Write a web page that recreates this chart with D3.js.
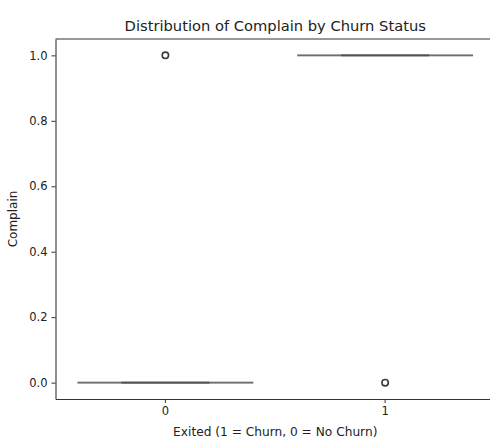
<!DOCTYPE html>
<html>
<head>
<meta charset="utf-8">
<script src="https://cdn.jsdelivr.net/npm/d3@7"></script>
<style>
  body { margin: 0; background: #fff; }
  text { font-family: "DejaVu Sans", sans-serif; fill: #222; }
</style>
</head>
<body>
<div id="chart"></div>
<script>
// box summaries per churn group (Complain is 0/1 so the boxes collapse)
const groups = ["0", "1"];
const q1 = [0, 1];
const median = [0, 1];
const q3 = [0, 1];
const whiskerLow = [0, 1];
const whiskerHigh = [0, 1];
const outliers = [[1], [0]];
const yTicks = [0, 0.2, 0.4, 0.6, 0.8, 1.0];

const W = 490, H = 439;
const margin = { top: 39, right: -5, bottom: 40, left: 55.5 };
const width = W - margin.left - margin.right,
      height = H - margin.top - margin.bottom;

const svg = d3.select("#chart").append("svg")
    .attr("width", W)
    .attr("height", H);

const g = svg.append("g")
    .attr("transform", `translate(${margin.left},${margin.top})`);

const x = d3.scaleBand().domain(groups).range([0, width]);
const y = d3.scaleLinear().domain([-0.05, 1.05]).range([height, 0]);

const boxW = x.bandwidth() * 0.8;
const capW = boxW / 2;
const lineCol = "#4a4a4a";

groups.forEach((grp, i) => {
    const cx = x(grp) + x.bandwidth() / 2;
    const b = g.append("g").attr("class", "box");
    // whiskers
    b.append("line").attr("x1", cx).attr("x2", cx)
        .attr("y1", y(q1[i])).attr("y2", y(whiskerLow[i]));
    b.append("line").attr("x1", cx).attr("x2", cx)
        .attr("y1", y(q3[i])).attr("y2", y(whiskerHigh[i]));
    // caps
    b.append("line").attr("x1", cx - capW / 2).attr("x2", cx + capW / 2)
        .attr("y1", y(whiskerLow[i])).attr("y2", y(whiskerLow[i]));
    b.append("line").attr("x1", cx - capW / 2).attr("x2", cx + capW / 2)
        .attr("y1", y(whiskerHigh[i])).attr("y2", y(whiskerHigh[i]));
    // box
    b.append("line").attr("x1", cx - boxW / 2).attr("x2", cx + boxW / 2)
        .attr("y1", y(q3[i])).attr("y2", y(q1[i]));
    // median
    b.append("line").attr("x1", cx - boxW / 2).attr("x2", cx + boxW / 2)
        .attr("y1", y(median[i])).attr("y2", y(median[i]));
    b.selectAll("line")
        .attr("stroke", lineCol)
        .attr("stroke-opacity", 0.55)
        .attr("stroke-width", 1.6);

    b.selectAll("circle")
        .data(outliers[i])
        .enter().append("circle")
        .attr("cx", cx)
        .attr("cy", d => y(d))
        .attr("r", 3.2)
        .attr("fill", "none")
        .attr("stroke", "#3a3a3a")
        .attr("stroke-width", 1.6);
});

// axes
const xAxis = g.append("g")
    .attr("transform", `translate(0,${height})`)
    .call(d3.axisBottom(x).tickSizeInner(4).tickSizeOuter(0).tickPadding(4));
const yAxis = g.append("g")
    .call(d3.axisLeft(y).tickValues(yTicks).tickFormat(d3.format(".1f"))
        .tickSizeInner(4).tickSizeOuter(0).tickPadding(4));

[xAxis, yAxis].forEach(a => {
    a.select(".domain").attr("stroke", "#333").attr("stroke-width", 1.1);
    a.selectAll(".tick line").attr("stroke", "#333");
    a.selectAll(".tick text").style("font-size", "11.5px").style("fill", "#222")
        .style("font-family", "DejaVu Sans, sans-serif");
});

// top spine
g.append("line")
    .attr("x1", 0).attr("x2", width)
    .attr("y1", 0).attr("y2", 0)
    .attr("stroke", "#333").attr("stroke-width", 1.1);

// labels
svg.append("text")
    .attr("x", margin.left + width / 2)
    .attr("y", 31)
    .attr("text-anchor", "middle")
    .style("font-size", "14.7px")
    .text("Distribution of Complain by Churn Status");

svg.append("text")
    .attr("x", margin.left + width / 2)
    .attr("y", 436)
    .attr("text-anchor", "middle")
    .style("font-size", "12.2px")
    .text("Exited (1 = Churn, 0 = No Churn)");

svg.append("text")
    .attr("transform", `translate(17,${margin.top + height / 2}) rotate(-90)`)
    .attr("text-anchor", "middle")
    .style("font-size", "12px")
    .text("Complain");
</script>
</body>
</html>
